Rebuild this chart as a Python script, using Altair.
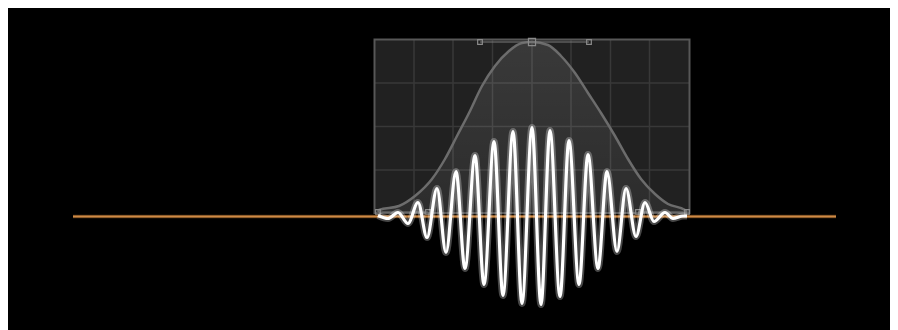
import altair as alt
import pandas as pd

# ---- values (x in page px, y = height above the baseline) ----
# Gaussian envelope curve (bell) drawn inside the editor box
bell_x = [378, 379, 399, 415, 432, 445, 457, 469, 482, 495, 509, 522, 532,
          548, 561, 575, 588, 601, 615, 628, 641, 655, 668, 685, 687]
bell_y = [4.5, 6.5, 10.5, 20.5, 37.5, 57.5, 80.5, 103.5, 130.5, 150.5, 165.5, 173.5, 174.5,
          171.5, 160.5, 143.5, 123.5, 103.5, 80.5, 57.5, 37.5, 22.5, 12.5, 6.5, 4.5]

# modulated wave: extrema (peaks and troughs) in order
wave_x = [378, 388, 398, 408, 418, 427, 437, 446, 456, 465, 475, 484, 494, 503, 513,
          522, 532, 541, 550, 560, 569, 579, 588, 598, 607, 617, 626, 636, 645, 654,
          665, 673, 683, 687]
wave_y = [1, -2, 4, -7, 14, -21, 28, -36, 45, -52, 61, -68, 75, -79, 85,
          -87, 89, -88, 86, -80, 76, -68, 62, -52, 45, -35, 28, -20, 14, -5,
          4, -2, 0.5, 0.5]

# editor box and its grid
box_x = [374.5, 689.5]
box_y = [3.5, 177]
grid_v = [414, 453, 492.5, 532, 571, 610.5, 649.5]
grid_h = [46.5, 90, 133.5]

# bezier handles and control points
handle_segments = [(480, 589, 174.5), (378, 428, 4.5), (638, 687, 4.5)]
ctrl_x = [378, 428, 480, 589, 638, 687]
ctrl_y = [4.5, 4.5, 174.5, 174.5, 4.5, 4.5]
anchor_top = (532, 174.5)

# orange baseline
base_x = [73, 836]

W, H = 882, 322
xs = alt.Scale(domain=[8, 890], nice=False, zero=False)
ys = alt.Scale(domain=[-113.5, 208.5], nice=False, zero=False)


def X(f="x"):
    return alt.X(f"{f}:Q", scale=xs, axis=None)


def Y(f="y"):
    return alt.Y(f"{f}:Q", scale=ys, axis=None)


box_df = pd.DataFrame({"x": [box_x[0]], "x2": [box_x[1]], "y": [box_y[0]], "y2": [box_y[1]]})
box_fill = alt.Chart(box_df).mark_rect(color="#212121").encode(
    x=X(), x2="x2:Q", y=Y(), y2="y2:Q")

gv_df = pd.DataFrame({"x": grid_v, "y": [box_y[0]] * len(grid_v), "y2": [box_y[1]] * len(grid_v)})
grid_vert = alt.Chart(gv_df).mark_rule(color="#383838", strokeWidth=1.5).encode(
    x=X(), y=Y(), y2="y2:Q")
gh_df = pd.DataFrame({"y": grid_h, "x": [box_x[0]] * len(grid_h), "x2": [box_x[1]] * len(grid_h)})
grid_hor = alt.Chart(gh_df).mark_rule(color="#383838", strokeWidth=1.5).encode(
    y=Y(), x=X(), x2="x2:Q")

bell_df = pd.DataFrame({"x": bell_x, "y": bell_y, "base": [box_y[0]] * len(bell_x)})
bell_area = alt.Chart(bell_df).mark_area(
    interpolate="monotone",
    color=alt.Gradient(
        gradient="linear",
        stops=[alt.GradientStop(color="rgba(255,255,255,0.11)", offset=0),
               alt.GradientStop(color="rgba(255,255,255,0.05)", offset=1)],
        x1=1, x2=1, y1=0, y2=1),
).encode(x=X(), y=Y(), y2="base:Q")

box_border = alt.Chart(box_df).mark_rect(fillOpacity=0, stroke="#575757", strokeWidth=2).encode(
    x=X(), x2="x2:Q", y=Y(), y2="y2:Q")

bell_line = alt.Chart(bell_df).mark_line(interpolate="monotone", color="#6c6c6c", strokeWidth=2.5).encode(
    x=X(), y=Y())

h_df = pd.DataFrame({"x": [h[0] for h in handle_segments], "x2": [h[1] for h in handle_segments],
                     "y": [h[2] for h in handle_segments]})
handles = alt.Chart(h_df).mark_rule(color="#7a7a7a", strokeWidth=1.2).encode(
    x=X(), x2="x2:Q", y=Y())

c_df = pd.DataFrame({"x": ctrl_x, "y": ctrl_y})
ctrl = alt.Chart(c_df).mark_square(size=22, filled=False, color="#8a8a8a", strokeWidth=1.2, opacity=1).encode(
    x=X(), y=Y())
a_df = pd.DataFrame({"x": [anchor_top[0]], "y": [anchor_top[1]]})
anchor = alt.Chart(a_df).mark_square(size=50, filled=False, color="#8a8a8a", strokeWidth=1.2, opacity=1).encode(
    x=X(), y=Y())

b_df = pd.DataFrame({"x": [base_x[0]], "x2": [base_x[1]], "y": [0]})
base_shadow = alt.Chart(b_df).mark_rule(color="#4a2e12", strokeWidth=3.5).encode(x=X(), x2="x2:Q", y=Y())
base_line = alt.Chart(b_df).mark_rule(color="#cf8a45", strokeWidth=2).encode(x=X(), x2="x2:Q", y=Y())

w_df = pd.DataFrame({"x": wave_x, "y": wave_y})
wave_glow = alt.Chart(w_df).mark_line(interpolate="monotone", color="#ffffff", strokeWidth=7,
                                      opacity=0.28).encode(x=X(), y=Y())
wave = alt.Chart(w_df).mark_line(interpolate="monotone", color="#ffffff", strokeWidth=3.2).encode(
    x=X(), y=Y())

chart = alt.layer(
    box_fill, grid_vert, grid_hor, bell_area, box_border, bell_line, handles, ctrl, anchor,
    base_shadow, base_line, wave_glow, wave,
).properties(width=W, height=H, padding=0, background="#000000").configure_view(stroke=None)

chart.save("out.html", embed_options={"renderer": "svg", "actions": False})
